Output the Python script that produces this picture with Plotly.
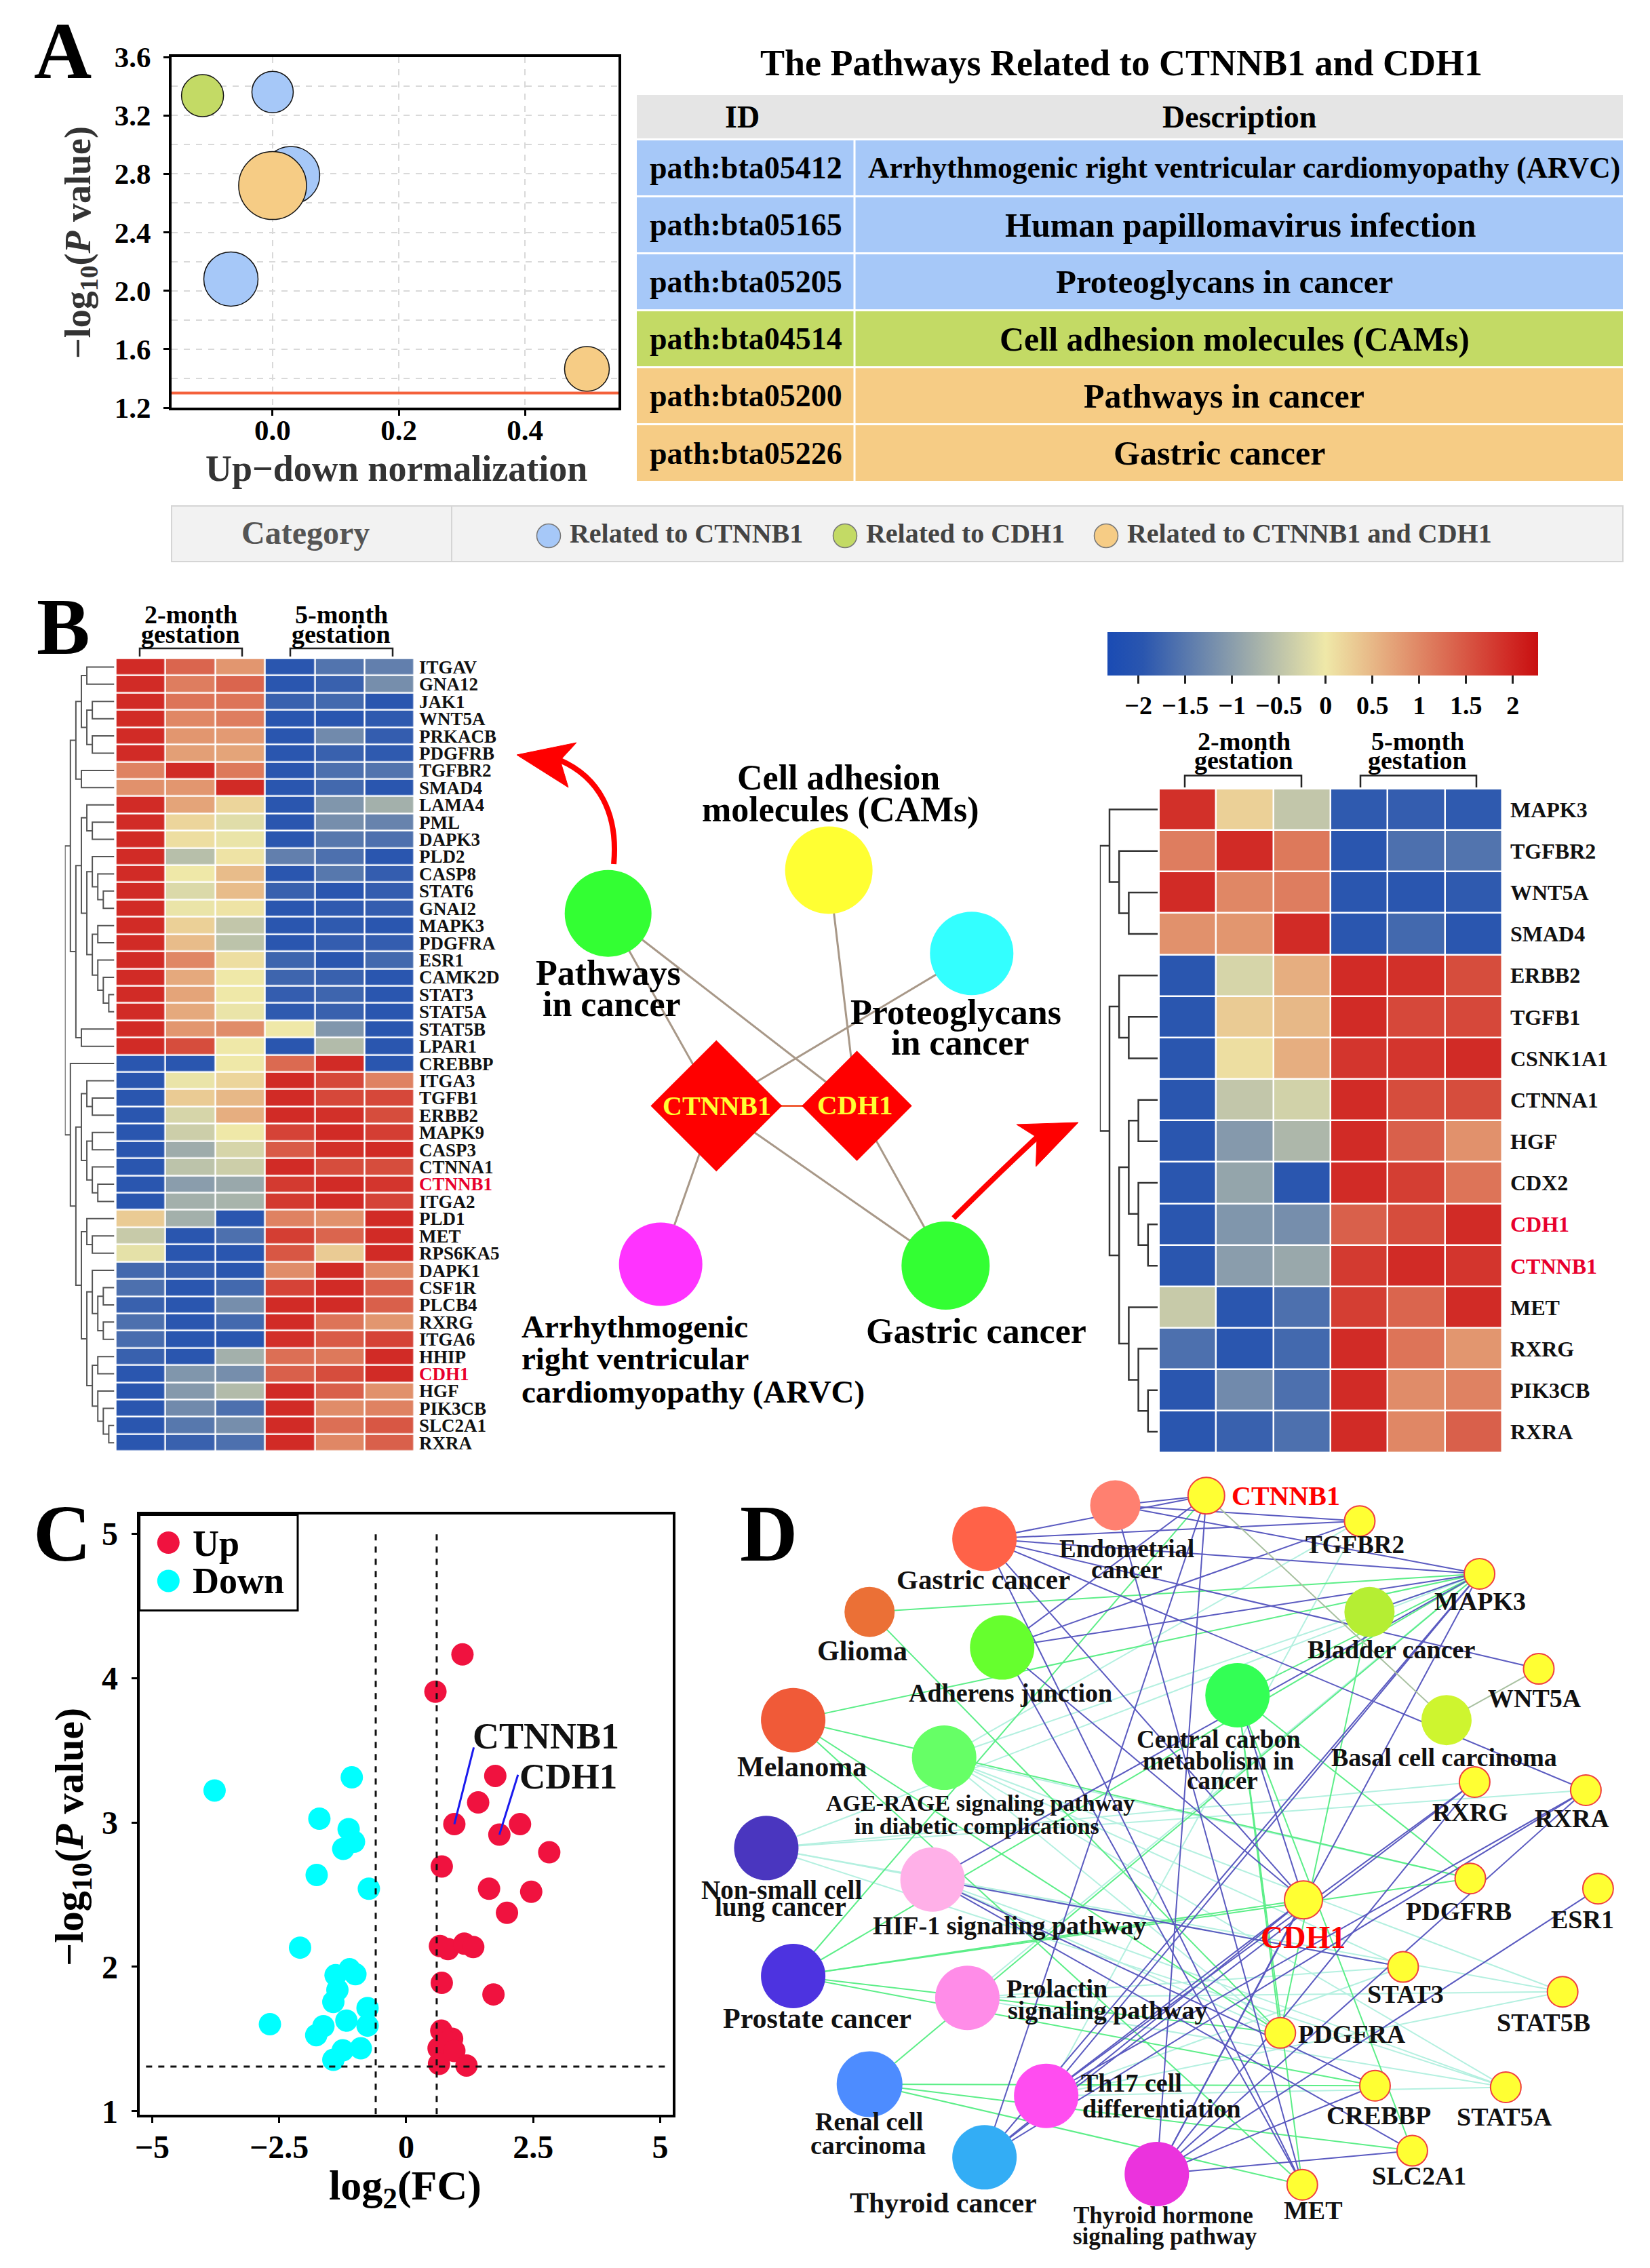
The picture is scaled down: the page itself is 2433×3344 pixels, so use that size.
import plotly.graph_objects as go

W, H = 2433, 3344
FONT = "Liberation Serif"

# ---------- Panel A data ----------
bub_x = [-0.111, 0.0, 0.029, 0.0, -0.066, 0.498]
bub_y = [3.335, 3.36, 2.79, 2.72, 2.08, 1.465]
bub_size = [62, 61, 85, 100, 80, 66]
bub_cat = ["cdh1", "ctnnb1", "ctnnb1", "both", "ctnnb1", "both"]
cat_color = {"ctnnb1": "#A6C8F8", "cdh1": "#C3DA65", "both": "#F6CC85"}
threshold_p = 1.3

# ---------- table data ----------
table_header = ["ID", "Description"]
table_ids = ["path:bta05412", "path:bta05165", "path:bta05205", "path:bta04514", "path:bta05200", "path:bta05226"]
table_desc = ["Arrhythmogenic right ventricular cardiomyopathy (ARVC)", "Human papillomavirus infection",
              "Proteoglycans in cancer", "Cell adhesion molecules (CAMs)", "Pathways in cancer", "Gastric cancer"]
table_cat = [1, 1, 1, 2, 3, 3]
table_col_edges = [939, 1260, 2393]
table_row_edges = [139, 206, 290, 374, 458, 542, 626, 711]
desc_center = [1834, 1829, 1805, 1820, 1805, 1798]
desc_size = [43.5, 50, 49, 50, 50, 50]
legend_labels = ["\u2009Related to CTNNB1", "\u2009Related to CDH1", "\u2009Related to CTNNB1 and CDH1"]
legend_keys = ["ctnnb1", "cdh1", "both"]
legend_pos = [809, 1246, 1631]

# ---------- heatmap data ----------
left_genes = ["ITGAV","GNA12","JAK1","WNT5A","PRKACB","PDGFRB","TGFBR2","SMAD4","LAMA4","PML","DAPK3","PLD2","CASP8",
              "STAT6","GNAI2","MAPK3","PDGFRA","ESR1","CAMK2D","STAT3","STAT5A","STAT5B","LPAR1","CREBBP","ITGA3",
              "TGFB1","ERBB2","MAPK9","CASP3","CTNNA1","CTNNB1","ITGA2","PLD1","MET","RPS6KA5","DAPK1","CSF1R",
              "PLCB4","RXRG","ITGA6","HHIP","CDH1","HGF","PIK3CB","SLC2A1","RXRA"]
left_values = [
 [1.95,1.35,0.85,-1.95,-1.55,-1.4],[1.95,1.1,1.35,-1.95,-1.8,-1.2],[1.95,1.2,1.2,-1.8,-1.7,-1.95],
 [1.95,1.0,1.1,-1.95,-1.95,-1.9],[1.95,0.85,0.8,-1.95,-1.25,-1.85],[1.95,0.75,0.7,-1.95,-1.8,-1.9],
 [1.05,1.95,1.15,-1.95,-1.6,-1.55],[0.9,0.85,1.95,-1.95,-1.7,-1.95],[1.95,0.7,0.2,-1.95,-1.1,-0.75],
 [1.95,0.2,-0.15,-1.95,-1.2,-1.35],[1.95,0.1,-0.05,-1.95,-1.5,-1.6],[1.95,-0.55,0.05,-1.4,-1.6,-1.95],
 [1.95,0.0,0.45,-1.95,-1.5,-1.85],[1.95,-0.2,0.45,-1.8,-1.95,-1.85],[1.95,-0.05,0.05,-1.95,-1.9,-1.85],
 [1.95,0.25,-0.45,-1.95,-1.9,-1.95],[1.95,0.45,-0.5,-1.95,-1.85,-1.85],[1.95,1.0,0.1,-1.75,-1.95,-1.7],
 [1.95,0.65,0.0,-1.75,-1.8,-1.95],[1.95,0.7,0.0,-1.85,-1.75,-1.95],[1.95,0.65,-0.05,-1.9,-1.8,-1.95],
 [1.95,0.85,0.95,0.0,-1.1,-1.95],[1.95,1.6,0.0,-1.95,-0.6,-1.95],[-1.95,-1.95,0.0,1.3,1.95,-1.95],
 [-1.95,-0.05,0.2,1.95,1.65,1.05],[-1.95,0.3,0.5,1.95,1.65,1.65],[-1.95,-0.25,0.6,1.95,1.9,1.6],
 [-1.95,-0.35,0.0,1.7,1.95,1.75],[-1.95,-0.8,-0.25,1.45,1.9,1.95],[-1.95,-0.5,-0.35,1.95,1.6,1.6],
 [-1.95,-1.0,-0.85,1.8,1.95,1.85],[-1.95,-0.75,-0.7,1.8,1.95,1.7],[0.3,-0.75,-1.95,1.05,0.9,1.95],
 [-0.4,-1.95,-1.6,1.75,1.35,1.95],[-0.1,-1.95,-1.95,1.5,0.3,1.95],[-1.7,-1.85,-1.95,0.95,1.95,1.0],
 [-1.6,-1.95,-1.7,1.7,1.95,1.4],[-1.8,-1.95,-1.2,1.95,1.95,1.4],[-1.6,-1.95,-1.7,1.95,1.2,0.85],
 [-1.65,-1.95,-1.95,1.9,1.45,1.7],[-1.8,-1.95,-0.75,1.25,1.15,1.95],[-1.95,-1.1,-1.2,1.4,1.6,1.95],
 [-1.95,-1.05,-0.6,1.95,1.4,0.9],[-1.95,-1.25,-1.6,1.95,0.95,1.05],[-1.95,-1.5,-1.2,1.95,1.25,1.5],
 [-1.95,-1.8,-1.6,1.95,1.0,1.4]]
right_genes = ["MAPK3","TGFBR2","WNT5A","SMAD4","ERBB2","TGFB1","CSNK1A1","CTNNA1","HGF","CDX2","CDH1","CTNNB1","MET",
               "RXRG","PIK3CB","RXRA"]
right_values = [
 [1.9,0.25,-0.45,-1.9,-1.85,-1.9],[1.1,1.95,1.15,-1.95,-1.6,-1.55],[1.95,1.0,1.1,-1.95,-1.95,-1.9],
 [0.9,0.85,1.95,-1.95,-1.7,-1.95],[-1.95,-0.25,0.6,1.95,1.9,1.6],[-1.95,0.3,0.5,1.95,1.65,1.65],
 [-1.95,0.1,0.6,1.85,1.85,1.95],[-1.95,-0.45,-0.3,1.95,1.6,1.6],[-1.95,-1.05,-0.65,1.95,1.4,0.9],
 [-1.95,-0.9,-1.95,1.95,1.75,1.2],[-1.95,-1.1,-1.2,1.4,1.6,1.95],[-1.95,-1.0,-0.85,1.8,1.95,1.85],
 [-0.4,-1.95,-1.6,1.75,1.35,1.95],[-1.6,-1.95,-1.7,1.95,1.2,0.85],[-1.95,-1.25,-1.6,1.95,0.95,1.05],
 [-1.95,-1.8,-1.6,1.95,1.0,1.4]]
samples = ["2m-1", "2m-2", "2m-3", "5m-1", "5m-2", "5m-3"]
highlight = {"CTNNB1", "CDH1"}

left_tree = [9,
 [8,
  [7, [6, [5,"ITGAV","GNA12"], [5,[4,"JAK1","WNT5A"],[4,"PRKACB","PDGFRB"]]], [6,"TGFBR2","SMAD4"]],
  [7, [6, [5,"LAMA4",[4,"PML","DAPK3"]],
          [5,[4,"PLD2",[3,"CASP8",[2,"STAT6","GNAI2"]]],
             [4,[3,"MAPK3","PDGFRA"],[3,"ESR1",[2,"CAMK2D",[1,"STAT3","STAT5A"]]]]]],
      [6,"STAT5B","LPAR1"]]],
 [8,"CREBBP",
  [7, [6,[5,"ITGA3",[4,"TGFB1","ERBB2"]],[5,[4,"MAPK9","CASP3"],[4,"CTNNA1",[3,"CTNNB1","ITGA2"]]]],
      [6,[5,"PLD1",[4,"MET","RPS6KA5"]],
         [5,[4,"DAPK1",[3,[2,"CSF1R","PLCB4"],[2,"RXRG","ITGA6"]]],
            [4,[3,"HHIP","CDH1"],[3,"HGF",[2,"PIK3CB",[1,"SLC2A1","RXRA"]]]]]]]]]
right_tree = [6,
 [5,"MAPK3",[4,"TGFBR2",[3,"WNT5A","SMAD4"]]],
 [5,[4,"ERBB2",[3,"TGFB1","CSNK1A1"]],
    [4,[3,[2,"CTNNA1","HGF"],[2,"CDX2",[1,"CDH1","CTNNB1"]]],
       [3,"MET",[2,"RXRG",[1,"PIK3CB","RXRA"]]]]]]

# ---------- Panel B network ----------
bn_names = ["Pathways", "CAMs", "Proteoglycans", "ARVC", "Gastric"]
bn_x = [273, 840, 1207, 408, 1140]
bn_y = [402, 306, 491, 1182, 1185]
bn_size = [128, 129, 123, 123, 130]
bn_color = ["#33FF33", "#FFFF33", "#33FFFF", "#FF33FF", "#33FF33"]
bg_names = ["CTNNB1", "CDH1"]
bg_x = [551, 912]
bg_y = [830, 830]
bg_size = [149, 125]
bn_edges = [("Pathways","CTNNB1"),("Pathways","CDH1"),("CAMs","CDH1"),("Proteoglycans","CTNNB1"),
            ("ARVC","CTNNB1"),("Gastric","CTNNB1"),("Gastric","CDH1")]
bn_labels = [("Cell adhesion",865,100,"center",52),("molecules (CAMs)",870,172,"center",52),
             ("Pathways",273,535,"center",52),("in cancer",283,604,"center",52),
             ("Proteoglycans",1167,622,"center",52),("in cancer",1178,690,"center",52),
             ("Arrhythmogenic",47,1320,"left",47),("right ventricular",47,1392,"left",47),
             ("cardiomyopathy (ARVC)",47,1466,"left",47),("Gastric cancer",1218,1330,"center",52)]

# ---------- Panel C data ----------
up_x = [1.107,0.575,1.753,1.416,0.947,2.24,1.833,2.815,0.70,1.63,2.46,1.983,0.664,0.823,1.142,1.319,0.70,1.717,0.69,0.903,0.637,0.81,0.947,0.646,1.186]
up_y = [4.163,3.905,3.322,3.138,2.988,2.988,2.915,2.793,2.695,2.541,2.52,2.374,2.144,2.123,2.161,2.137,1.889,1.809,1.558,1.502,1.436,1.48,1.418,1.328,1.317]
down_x = [-3.771,-1.071,-1.709,-1.133,-1.027,-1.239,-1.762,-0.735,-2.089,-1.115,-1.39,-1.0,-1.354,-1.434,-0.761,-2.682,-1.177,-0.761,-1.629,-1.771,-0.894,-1.248,-1.434]
down_y = [3.221,3.312,3.026,2.953,2.866,2.817,2.636,2.541,2.133,1.983,1.942,1.949,1.84,1.757,1.715,1.603,1.628,1.593,1.589,1.527,1.436,1.422,1.356]
fc_cut = 0.6
p_cut = 1.31
ctnnb1_pt = (0.947, 2.988)
cdh1_pt = (1.833, 2.915)

# ---------- Panel D network ----------
path_names = ["Endometrial","Gastric","Glioma","Adherens","Bladder","Basal","Central","Melanoma","AGE","NonSmall","HIF1",
              "Prostate","Prolactin","Renal","Th17","ThyroidC","ThyroidH"]
path_x = [693,479,291,508,1109,1235,893,166,413,122,394,166,451,291,580,479,761]
path_y = [66,132,276,346,276,489,440,489,563,741,803,993,1036,1206,1229,1350,1383]
path_size = [74,95,74,95,74,74,95,95,95,95,95,95,95,97,95,95,95]
path_color = ["#FF8070","#FF6248","#EB7036","#66FF2E","#B5EE33","#CEF52F","#33FF55","#F05A38","#66FF66","#4A36BF","#FFB0E8",
              "#4D33E0","#FF8CE8","#4D8CFF","#FF4DF0","#33ADF5","#EB33DD"]
gene_names = ["CTNNB1","TGFBR2","MAPK3","WNT5A","RXRG","RXRA","PDGFRB","ESR1","CDH1","STAT3","STAT5B","PDGFRA","CREBBP","STAT5A","SLC2A1","MET"]
gene_x = [842,1093,1289,1386,1281,1463,1274,1483,1001,1164,1425,963,1118,1332,1179,999]
gene_y = [47,97,201,388,611,627,801,821,843,975,1024,1105,1209,1212,1337,1404]
gene_size = [54,45,45,45,45,45,45,45,56,45,45,45,45,45,45,45]
blue_edges = {"Gastric":["CTNNB1","TGFBR2","MAPK3","WNT5A","RXRA","CDH1","MET"],
              "Endometrial":["CTNNB1","MAPK3","MET","TGFBR2"],
              "Adherens":["CTNNB1","TGFBR2","MAPK3","CDH1","MET"],
              "Bladder":["MAPK3"],"Central":["CDH1"],
              "ThyroidC":["CTNNB1","CDH1","RXRG","RXRA","MAPK3"],
              "Th17":["MAPK3","RXRG","RXRA","CDH1"],
              "ThyroidH":["CTNNB1","RXRG","RXRA","MAPK3","SLC2A1","CREBBP","ESR1","CDH1"],
              "HIF1":["MAPK3","STAT3","CREBBP","SLC2A1"]}
green_edges = {"Glioma":["MAPK3","PDGFRA"],"Melanoma":["MAPK3","PDGFRB","PDGFRA","MET"],
               "Prostate":["CTNNB1","MAPK3","PDGFRB","PDGFRA","CREBBP","CDH1"],
               "Renal":["MAPK3","CREBBP","SLC2A1","MET"],
               "Central":["MAPK3","PDGFRB","PDGFRA","MET","SLC2A1"],"Bladder":["PDGFRA"]}
teal_edges = {"AGE":["TGFBR2","MAPK3","STAT3","STAT5A","STAT5B","PDGFRA","PDGFRB"],
              "NonSmall":["MAPK3","RXRG","RXRA","STAT3","STAT5A","STAT5B"],
              "Prolactin":["STAT3","STAT5A","STAT5B","MAPK3"],"Th17":["TGFBR2","STAT3","STAT5A","STAT5B"],
              "HIF1":["STAT5A","PDGFRA"]}
olive_edges = {"Basal":["CTNNB1","WNT5A"]}
dn_labels = [("CTNNB1",972,47,40,"red"),("TGFBR2",1085,143,37,"#111"),("Endometrial",712,152,37,"#111"),("cancer",712,193,37,"#111"),
             ("Gastric cancer",477,212,41,"#111"),("MAPK3",1290,255,38,"#111"),("Glioma",279,353,42,"#111"),
             ("Bladder cancer",1145,350,38,"#111"),("WNT5A",1379,446,38,"#111"),("Adherens junction",521,436,38,"#111"),
             ("Central carbon",862,527,37,"#111"),("metabolism in",862,570,37,"#111"),("cancer",868,608,37,"#111"),
             ("Melanoma",180,581,42,"#111"),("Basal cell carcinoma",1231,562,38,"#111"),
             ("AGE-RAGE signaling pathway",472,653,34,"#111"),("in diabetic complications",467,698,34,"#111"),
             ("RXRG",1274,670,38,"#111"),("RXRA",1440,683,38,"#111"),("Non-small cell",147,823,39,"#111"),("lung cancer",145,858,39,"#111"),
             ("HIF-1 signaling pathway",520,893,38,"#111"),("PDGFRB",1255,865,38,"#111"),("ESR1",1458,882,38,"#111"),
             ("CDH1",1000,917,46,"red"),("STAT3",1168,1028,38,"#111"),("Prolactin",598,1018,38,"#111"),("signaling pathway",681,1060,38,"#111"),
             ("STAT5B",1394,1085,38,"#111"),("PDGFRA",1080,1107,38,"#111"),("Prostate cancer",205,1077,42,"#111"),
             ("Renal cell",290,1280,38,"#111"),("carcinoma",289,1326,38,"#111"),("Th17 cell",720,1203,38,"#111"),("differentiation",769,1254,38,"#111"),
             ("CREBBP",1124,1268,38,"#111"),("STAT5A",1330,1270,38,"#111"),("SLC2A1",1190,1386,38,"#111"),
             ("Thyroid cancer",412,1440,42,"#111"),("Thyroid hormone",772,1465,35,"#111"),("signaling pathway",775,1506,35,"#111"),("MET",1017,1455,38,"#111")]

# ---------- helpers ----------
def px(x): return x / W
def py(y): return 1 - y / H
def dx(a, b): return [px(a), px(b)]
def dy(top, bot): return [py(bot), py(top)]

hidden = dict(visible=False, showgrid=False, zeroline=False, fixedrange=True, automargin=False)
ann = []
shapes = []

def text(t, x, y, size, xref="paper", yref="paper", color="black", xa="center", ya="middle", angle=0):
    if xref == "paper":
        x, y = px(x), py(y)
    ann.append(dict(text=t, x=x, y=y, xref=xref, yref=yref, showarrow=False, xanchor=xa, yanchor=ya,
                    textangle=angle, font=dict(size=size, color=color, family=FONT, weight=700)))

def rect(x0, y0, x1, y1, fill="rgba(0,0,0,0)", line="black", lw=2, layer="above"):
    shapes.append(dict(type="rect", xref="paper", yref="paper", x0=px(x0), x1=px(x1), y0=py(y0), y1=py(y1),
                       fillcolor=fill, line=dict(color=line, width=lw), layer=layer))

def pathp(pts):
    return "M" + " L".join(f"{px(x)},{py(y)}" for x, y in pts)

fig = go.Figure()

# ---------- A: bubbles ----------
for i in range(len(bub_x)):
    fig.add_trace(go.Scatter(x=[bub_x[i]], y=[bub_y[i]], mode="markers", xaxis="x", yaxis="y", hoverinfo="skip", showlegend=False,
                             marker=dict(size=bub_size[i], color=cat_color[bub_cat[i]], opacity=1, line=dict(color="#111", width=1.5))))
fig.add_trace(go.Scatter(x=[-0.16, 0.548], y=[threshold_p, threshold_p], mode="lines", xaxis="x", yaxis="y", hoverinfo="skip",
                         showlegend=False, line=dict(color="#F4603A", width=4)))
axA = dict(showline=True, linewidth=4, linecolor="black", mirror=True, zeroline=False, showgrid=True, griddash="dash",
           gridcolor="#D9D9D9", gridwidth=2, ticks="outside", ticklen=8, tickwidth=3, tickcolor="black", automargin=False,
           tickfont=dict(size=43, family=FONT, weight=700), fixedrange=True)
layout = dict(
    xaxis=dict(axA, domain=dx(253, 912), range=[-0.16, 0.548], tickvals=[0, 0.2, 0.4], ticktext=["0.0", "0.2", "0.4"],
               anchor="y", ticklabelstandoff=-16),
    yaxis=dict(axA, domain=dy(84, 601), range=[1.2, 3.6], tickvals=[1.2, 1.6, 2.0, 2.4, 2.8, 3.2, 3.6],
               ticktext=["1.2", "1.6", "2.0", "2.4", "2.8", "3.2", "3.6"], anchor="x", ticklabelstandoff=10,
               minor=dict(dtick=0.2, tick0=1.2, showgrid=True, griddash="dash", gridcolor="#D9D9D9", gridwidth=2, ticks="")))
text("A", 92, 76, 118)
text("−log<sub>10</sub>(<i>P</i> value)", 118, 358, 54, color="#333", angle=-90)
text("Up−down normalization", 584, 691, 54, color="#333")

# ---------- table ----------
z_table = [[0, 0]] + [[c, c] for c in table_cat]
cs_table = [[0, "#E5E5E5"], [.25, "#E5E5E5"], [.25, cat_color["ctnnb1"]], [.5, cat_color["ctnnb1"]],
            [.5, cat_color["cdh1"]], [.75, cat_color["cdh1"]], [.75, cat_color["both"]], [1, cat_color["both"]]]
fig.add_trace(go.Heatmap(z=z_table, x=table_col_edges, y=table_row_edges, xaxis="x2", yaxis="y2", zmin=-.5, zmax=3.5,
                         colorscale=cs_table, showscale=False, ygap=3, hoverinfo="skip"))
layout["xaxis2"] = dict(hidden, domain=dx(table_col_edges[0], table_col_edges[-1]), range=[table_col_edges[0], table_col_edges[-1]], anchor="y2")
layout["yaxis2"] = dict(hidden, domain=dy(table_row_edges[0], table_row_edges[-1]), range=[table_row_edges[-1], table_row_edges[0]], anchor="x2")
shapes.append(dict(type="line", xref="x2", yref="y2", x0=table_col_edges[1], x1=table_col_edges[1], y0=table_row_edges[1], y1=table_row_edges[-1],
                   line=dict(color="white", width=3)))
text("The Pathways Related to CTNNB1 and CDH1", 1653, 93, 54)
text(table_header[0], 1094, 173, 46, "x2", "y2")
text(table_header[1], 1827, 173, 46, "x2", "y2")
for i in range(6):
    cy = (table_row_edges[i + 1] + table_row_edges[i + 2]) / 2
    text(table_ids[i], (table_col_edges[0] + table_col_edges[1]) / 2, cy, 46, "x2", "y2")
    text(table_desc[i], desc_center[i], cy, desc_size[i], "x2", "y2")

# category strip
rect(253, 746, 2393, 828, fill="#F2F2F2", line="#D5D5D5", lw=2, layer="below")
shapes.append(dict(type="line", xref="paper", yref="paper", x0=px(666), x1=px(666), y0=py(746), y1=py(828), line=dict(color="#D5D5D5", width=2), layer="below"))
fig.add_trace(go.Scatter(x=legend_pos, y=[790] * 3, mode="markers+text", xaxis="x10", yaxis="y10", hoverinfo="skip", showlegend=False,
                         marker=dict(size=35, color=[cat_color[k] for k in legend_keys], line=dict(color="#777", width=1.5)),
                         text=legend_labels, textposition="middle right",
                         textfont=dict(size=40, color="#444", family=FONT, weight=700)))
layout["xaxis10"] = dict(hidden, domain=dx(253, 2393), range=[253, 2393], anchor="y10")
layout["yaxis10"] = dict(hidden, domain=dy(746, 828), range=[828, 746], anchor="x10")
text("Category", 450, 785, 48, color="#555")

# ---------- B heatmaps ----------
ZMIN, ZMAX = -2.33, 2.27
def tnorm(v): return (v - ZMIN) / (ZMAX - ZMIN)
CS = [[0, "#1A4BB4"], [tnorm(-1.95), "#2A56AF"], [tnorm(0), "#EFE8A8"], [tnorm(1.95), "#D12B26"], [1, "#C80F10"]]

def tick_labels(genes):
    return [f'<span style="color:#E8002D">{g}</span>' if g in highlight else g for g in genes]

fig.add_trace(go.Heatmap(z=left_values, x=samples, y=left_genes, xaxis="x3", yaxis="y3", colorscale=CS, zmin=ZMIN, zmax=ZMAX,
                         showscale=False, xgap=2.5, ygap=2.5, hoverinfo="skip"))
layout["xaxis3"] = dict(hidden, domain=dx(170.7, 611), anchor="y3")
layout["yaxis3"] = dict(domain=dy(970.7, 2140), anchor="x3", side="right", autorange="reversed", showgrid=False, zeroline=False, automargin=False,
                        ticks="", tickmode="array", tickvals=left_genes, ticktext=tick_labels(left_genes), ticklabelstandoff=6,
                        tickfont=dict(size=27, family=FONT, weight=700, color="#111"), fixedrange=True)
fig.add_trace(go.Heatmap(z=right_values, x=samples, y=right_genes, xaxis="x5", yaxis="y5", colorscale=CS, zmin=ZMIN, zmax=ZMAX,
                         xgap=2.5, ygap=2.5, hoverinfo="skip",
                         colorbar=dict(orientation="h", x=px((1633 + 2268) / 2), xanchor="center", y=py(932), yanchor="top",
                                       len=635, lenmode="pixels", thickness=64, thicknessmode="pixels", xpad=0, ypad=0,
                                       tickvals=[-2, -1.5, -1, -0.5, 0, 0.5, 1, 1.5, 2], ticks="outside", ticklen=12, tickwidth=3,
                                       tickcolor="#222", outlinewidth=0,
                                       tickfont=dict(size=38, family=FONT, weight=700))))
layout["xaxis5"] = dict(hidden, domain=dx(1709, 2215), anchor="y5")
layout["yaxis5"] = dict(domain=dy(1163, 2141.5), anchor="x5", side="right", autorange="reversed", showgrid=False, zeroline=False, automargin=False,
                        ticks="", tickmode="array", tickvals=right_genes, ticktext=tick_labels(right_genes), ticklabelstandoff=11,
                        tickfont=dict(size=32, family=FONT, weight=700, color="#111"), fixedrange=True)

def dendro(tree, genes):
    idx = {g: i for i, g in enumerate(genes)}
    xs, ys = [], []
    def walk(n):
        if isinstance(n, str):
            return idx[n], 0
        lev, a, b = n
        ya, la = walk(a)
        yb, lb = walk(b)
        xs.extend([la, lev, lev, lb, None])
        ys.extend([ya, ya, yb, yb, None])
        return (ya + yb) / 2, lev
    walk(tree)
    return xs, ys

lx, ly = dendro(left_tree, left_genes)
fig.add_trace(go.Scatter(x=lx, y=ly, mode="lines", xaxis="x4", yaxis="y4", line=dict(color="#555", width=2), hoverinfo="skip", showlegend=False))
layout["xaxis4"] = dict(hidden, domain=dx(95.7, 168.5), range=[9, 0], anchor="y4")
layout["yaxis4"] = dict(hidden, domain=dy(970.7, 2140), range=[len(left_genes) - .5, -.5], anchor="x4")
rx, ry = dendro(right_tree, right_genes)
fig.add_trace(go.Scatter(x=rx, y=ry, mode="lines", xaxis="x6", yaxis="y6", line=dict(color="#333", width=2.5), hoverinfo="skip", showlegend=False))
layout["xaxis6"] = dict(hidden, domain=dx(1621.8, 1707), range=[6, 0], anchor="y6")
layout["yaxis6"] = dict(hidden, domain=dy(1163, 2141.5), range=[len(right_genes) - .5, -.5], anchor="x6")

text("B", 93, 925, 118)
for label, cx, y1, y2, bl, br, bt, bb in [("2-month", 281, 906, 935, 206, 357, 956, 968), ("5-month", 503, 906, 935, 428, 579, 956, 968),
                                          ("2-month", 1834, 1093, 1121, 1747, 1919, 1143.5, 1161), ("5-month", 2090, 1093, 1121, 2006, 2177, 1143.5, 1161)]:
    text(label, cx, y1, 38)
    text("gestation", cx, y2, 38)
    shapes.append(dict(type="path", xref="paper", yref="paper", path=pathp([(bl, bb), (bl, bt), (br, bt), (br, bb)]),
                       line=dict(color="#222", width=2.5)))

# ---------- B network ----------
bpos = dict(zip(bn_names + bg_names, zip(bn_x + bg_x, bn_y + bg_y)))
ex, ey = [], []
for a, b in bn_edges:
    ex += [bpos[a][0], bpos[b][0], None]
    ey += [bpos[a][1], bpos[b][1], None]
fig.add_trace(go.Scatter(x=ex, y=ey, mode="lines", xaxis="x7", yaxis="y7", line=dict(color="#A89888", width=3), hoverinfo="skip", showlegend=False))
fig.add_trace(go.Scatter(x=bg_x, y=bg_y, mode="lines", xaxis="x7", yaxis="y7", line=dict(color="#F0603A", width=3), hoverinfo="skip", showlegend=False))
fig.add_trace(go.Scatter(x=bn_x, y=bn_y, mode="markers", xaxis="x7", yaxis="y7", hoverinfo="skip", showlegend=False,
                         marker=dict(size=bn_size, color=bn_color, opacity=1, line=dict(width=0))))
fig.add_trace(go.Scatter(x=bg_x, y=bg_y, mode="markers", xaxis="x7", yaxis="y7", hoverinfo="skip", showlegend=False,
                         marker=dict(size=bg_size, color="#FF0000", opacity=1, symbol="diamond", line=dict(width=0))))
layout["xaxis7"] = dict(hidden, domain=dx(740, 1640), range=[0, 1568], anchor="y7")
layout["yaxis7"] = dict(hidden, domain=dy(1080, 2120), range=[1568, 0], anchor="x7")
for t, x, y, al, s in bn_labels:
    text(t, x, y, s, "x7", "y7", xa=al)
text("CTNNB1", 552, 830, 40, "x7", "y7", color="#FFFF33")
text("CDH1", 908, 828, 41, "x7", "y7", color="#FFFF33")
shapes.append(dict(type="path", xref="paper", yref="paper", line=dict(color="#FF0000", width=8),
                   path=f"M{px(905)},{py(1274)} C{px(912)},{py(1199)} {px(883)},{py(1146)} {px(826)},{py(1121)}"))
shapes.append(dict(type="path", xref="paper", yref="paper", fillcolor="#FF0000", line=dict(color="#FF0000", width=1),
                   path=pathp([(762, 1113), (850, 1095), (826, 1121), (838, 1161)]) + " Z"))
shapes.append(dict(type="path", xref="paper", yref="paper", line=dict(color="#FF0000", width=8),
                   path=f"M{px(1406)},{py(1796)} Q{px(1469)},{py(1733)} {px(1529)},{py(1677)}"))
shapes.append(dict(type="path", xref="paper", yref="paper", fillcolor="#FF0000", line=dict(color="#FF0000", width=1),
                   path=pathp([(1590, 1655), (1499, 1658), (1529, 1677), (1527.5, 1720)]) + " Z"))

# ---------- C volcano ----------
for xs, ys, col in [(up_x, up_y, "#F0123F"), (down_x, down_y, "#00FFFF")]:
    fig.add_trace(go.Scatter(x=xs, y=ys, mode="markers", xaxis="x8", yaxis="y8", hoverinfo="skip", showlegend=False,
                             marker=dict(size=33, color=col, opacity=1, line=dict(width=0))))
dash = dict(color="#111", width=3, dash="dash")
for v in (-fc_cut, fc_cut):
    fig.add_trace(go.Scatter(x=[v, v], y=[0.98, 5.03], mode="lines", xaxis="x8", yaxis="y8", line=dash, hoverinfo="skip", showlegend=False))
fig.add_trace(go.Scatter(x=[-5.12, 5.09], y=[p_cut, p_cut], mode="lines", xaxis="x8", yaxis="y8", line=dash, hoverinfo="skip", showlegend=False))
for pt, lab, ex_, ey_ in [(ctnnb1_pt, "CTNNB1", 1.33, 3.52), (cdh1_pt, "CDH1", 2.2, 3.33)]:
    fig.add_trace(go.Scatter(x=[pt[0], ex_], y=[pt[1], ey_], mode="lines", xaxis="x8", yaxis="y8", line=dict(color="#1A1AEE", width=3), hoverinfo="skip", showlegend=False))
text("CTNNB1", 2.75, 3.595, 54, "x8", "y8", color="#111")
text("CDH1", 3.19, 3.32, 53, "x8", "y8", color="#111")
axC = dict(showline=True, linewidth=4, linecolor="black", mirror=True, zeroline=False, showgrid=False, ticks="outside", ticklen=8, automargin=False,
           tickwidth=3, tickcolor="black", tickfont=dict(size=48, family=FONT, weight=700), fixedrange=True)
layout["xaxis8"] = dict(axC, domain=dx(205.6, 991.6), range=[-5.25, 5.24], tickvals=[-5, -2.5, 0, 2.5, 5], ticktext=["−5", "−2.5", "0", "2.5", "5"],
                        anchor="y8", ticklabelstandoff=-5)
layout["yaxis8"] = dict(axC, domain=dy(2233.4, 3117.6), range=[0.978, 5.13], tickvals=[1, 2, 3, 4, 5], anchor="x8", ticklabelstandoff=10)
rect(205.6, 2233.4, 439, 2374.5, line="black", lw=3)
fig.add_trace(go.Scatter(x=[-4.68], y=[4.937], mode="markers", xaxis="x8", yaxis="y8", marker=dict(size=33, color="#F0123F"), hoverinfo="skip", showlegend=False))
fig.add_trace(go.Scatter(x=[-4.68], y=[4.672], mode="markers", xaxis="x8", yaxis="y8", marker=dict(size=33, color="#00FFFF"), hoverinfo="skip", showlegend=False))
text("Up", -4.23, 4.93, 54, "x8", "y8", xa="left")
text("Down", -4.23, 4.672, 54, "x8", "y8", xa="left")
text("C", 91, 2261, 118)
text("−log<sub>10</sub>(<i>P</i> value)", 106, 2709, 60, angle=-90)
text("log<sub>2</sub>(FC)", 597, 3226, 62)

# ---------- D network ----------
dpos = dict(zip(path_names + gene_names, zip(path_x + gene_x, path_y + gene_y)))
for edges, col, lw in [(teal_edges, "#B4F0E0", 2), (green_edges, "#5CEE88", 2), (blue_edges, "#5A5AC0", 2), (olive_edges, "#A8C0A0", 2)]:
    ex, ey = [], []
    for p, gs in edges.items():
        for g in gs:
            ex += [dpos[p][0], dpos[g][0], None]
            ey += [dpos[p][1], dpos[g][1], None]
    fig.add_trace(go.Scatter(x=ex, y=ey, mode="lines", xaxis="x9", yaxis="y9", line=dict(color=col, width=lw), hoverinfo="skip", showlegend=False))
fig.add_trace(go.Scatter(x=path_x, y=path_y, mode="markers", xaxis="x9", yaxis="y9", hoverinfo="skip", showlegend=False,
                         marker=dict(size=path_size, color=path_color, opacity=1, line=dict(width=0))))
fig.add_trace(go.Scatter(x=gene_x, y=gene_y, mode="markers", xaxis="x9", yaxis="y9", hoverinfo="skip", showlegend=False,
                         marker=dict(size=gene_size, color="#FFFF33", opacity=1, line=dict(color="#F04040", width=2))))
layout["xaxis9"] = dict(hidden, domain=dx(1020, 2433), range=[0, 1568], anchor="y9")
layout["yaxis9"] = dict(hidden, domain=dy(2170, 3344), range=[1568, 0], anchor="x9")
for t, x, y, s, c in dn_labels:
    text(t, x, y, s, "x9", "y9", color=c)
text("D", 1133, 2261, 118)

layout.update(width=W, height=H, margin=dict(l=0, r=0, t=0, b=0, autoexpand=False), paper_bgcolor="white", plot_bgcolor="rgba(0,0,0,0)",
              showlegend=False, font=dict(family=FONT, color="black", weight=700), annotations=ann, shapes=shapes)
fig.update_layout(**layout)
fig.write_html("out.html", config={"displayModeBar": False}, post_script="document.body.style.margin='0';")
